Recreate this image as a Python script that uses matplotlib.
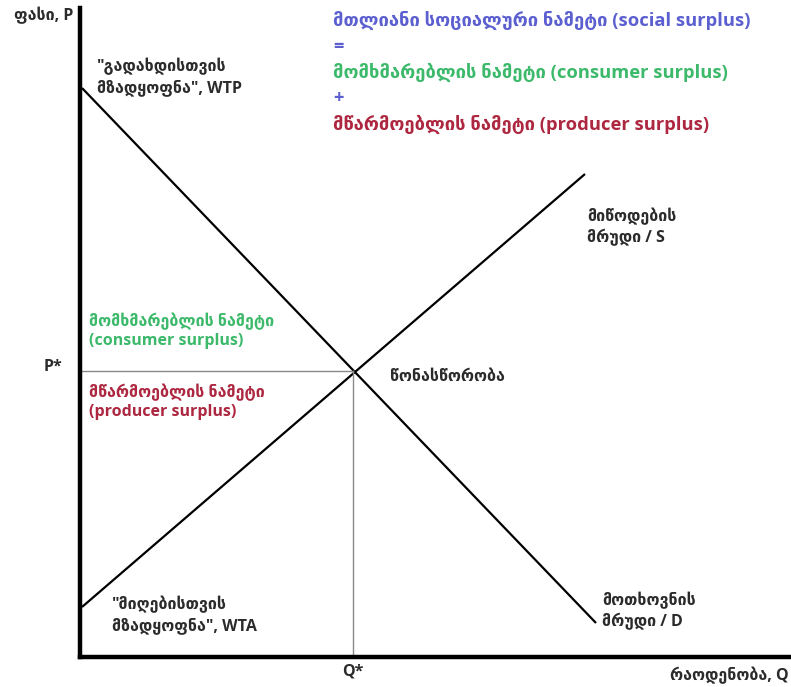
import matplotlib
matplotlib.use("Agg")
import matplotlib.pyplot as plt

# მრუდები (ერთეულები: რაოდენობა Q, ფასი P)
demand_q = [2, 516]
demand_p = [569, 34]
supply_q = [2, 505]
supply_p = [50, 483]
eq_q = 273
eq_p = 286

# ფერები
blue = "#5b5fcf"
green = "#3cb96a"
red = "#ad2740"
dark = "#2b2b2b"

plt.rcParams['font.family'] = ['Open Sans', 'DejaVu Sans']
plt.rcParams['font.weight'] = 'bold'

fig = plt.figure(figsize=(7.91, 6.87), dpi=100)
ax = fig.add_axes([80 / 791, 30 / 687, 711 / 791, 649 / 687])
ax.set_xlim(0, 711)
ax.set_ylim(0, 649)

for s in ['top', 'right']:
    ax.spines[s].set_visible(False)
for s in ['left', 'bottom']:
    ax.spines[s].set_linewidth(3.2)
    ax.spines[s].set_color('black')
ax.set_xticks([])
ax.set_yticks([])

# მოთხოვნა და მიწოდება
ax.plot(demand_q, demand_p, color='black', lw=1.6, solid_capstyle='butt')
ax.plot(supply_q, supply_p, color='black', lw=1.6, solid_capstyle='butt')

# წონასწორობის დამხმარე ხაზები
ax.plot([0, eq_q], [eq_p, eq_p], color='#8a8a8a', lw=1.0)
ax.plot([eq_q, eq_q], [0, eq_p], color='#8a8a8a', lw=1.0)

fs = 11.5
ls = 1.3
tfs = 13.2

# ღერძების წარწერები
ax.text(-7, 641, "ფასი, P", ha='right', va='center', fontsize=fs, color=dark, clip_on=False)
ax.text(-18, eq_p + 4, "P*", ha='right', va='center', fontsize=fs, color=dark, clip_on=False)
ax.text(eq_q, -15, "Q*", ha='center', va='center', fontsize=fs, color=dark, clip_on=False)
ax.text(590, -18, "რაოდენობა, Q", ha='left', va='center', fontsize=fs, color=dark, clip_on=False)

# მრუდების წარწერები
ax.text(17, 580, "\"გადახდისთვის\nმზადყოფნა\", WTP", ha='left', va='center',
        fontsize=fs, color=dark, linespacing=ls)
ax.text(32, 42, "\"მიღებისთვის\nმზადყოფნა\", WTA", ha='left', va='center',
        fontsize=fs, color=dark, linespacing=ls)
ax.text(507, 430, "მიწოდების\nმრუდი / S", ha='left', va='center',
        fontsize=fs, color=dark, linespacing=ls)
ax.text(522, 46, "მოთხოვნის\nმრუდი / D", ha='left', va='center',
        fontsize=fs, color=dark, linespacing=ls)
ax.text(310, 280, "წონასწორობა", ha='left', va='center', fontsize=fs, color=dark)

# ნამეტები
ax.text(9, 326, "მომხმარებლის ნამეტი\n(consumer surplus)", ha='left', va='center',
        fontsize=fs, color=green, linespacing=ls)
ax.text(9, 255, "მწარმოებლის ნამეტი\n(producer surplus)", ha='left', va='center',
        fontsize=fs, color=red, linespacing=ls)

# სათაური
tx = 253
ax.text(tx, 637, "მთლიანი სოციალური ნამეტი (social surplus)", ha='left', va='center',
        fontsize=tfs, color=blue)
ax.text(tx, 610, "=", ha='left', va='center', fontsize=tfs, color=blue)
ax.text(tx, 585, "მომხმარებლის ნამეტი (consumer surplus)", ha='left', va='center',
        fontsize=tfs, color=green)
ax.text(tx, 559, "+", ha='left', va='center', fontsize=tfs, color=blue)
ax.text(tx, 533, "მწარმოებლის ნამეტი (producer surplus)", ha='left', va='center',
        fontsize=tfs, color=red)

fig.savefig("out.png", dpi=100)
